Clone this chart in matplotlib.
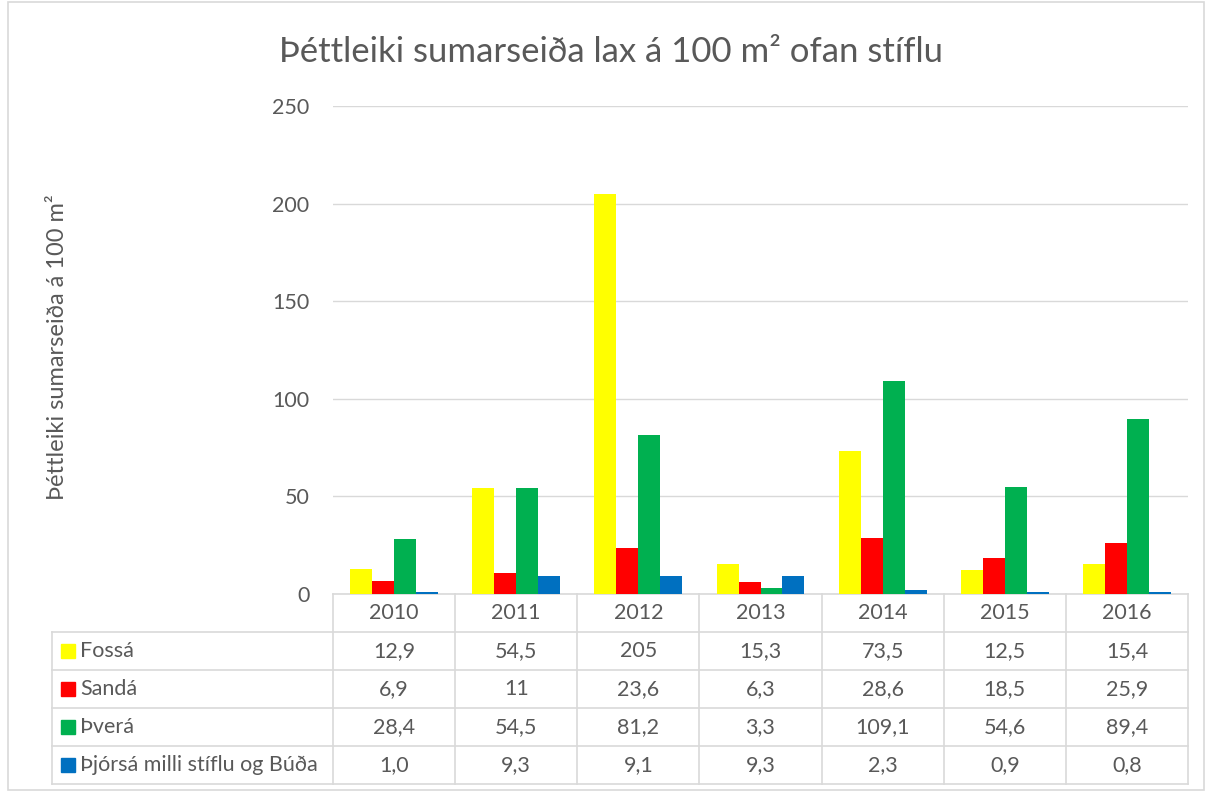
import numpy as np
import matplotlib.pyplot as plt
from matplotlib.patches import Rectangle

plt.rcParams['font.family'] = ['Lato', 'DejaVu Sans']

years = ['2010', '2011', '2012', '2013', '2014', '2015', '2016']
series_names = ['Fossá', 'Sandá', 'Þverá', 'Þjórsá milli stíflu og Búða']
fossa = [12.9, 54.5, 205, 15.3, 73.5, 12.5, 15.4]
sanda = [6.9, 11, 23.6, 6.3, 28.6, 18.5, 25.9]
thvera = [28.4, 54.5, 81.2, 3.3, 109.1, 54.6, 89.4]
thjorsa = [1.0, 9.3, 9.1, 9.3, 2.3, 0.9, 0.8]
table_text = [
    ['12,9', '54,5', '205', '15,3', '73,5', '12,5', '15,4'],
    ['6,9', '11', '23,6', '6,3', '28,6', '18,5', '25,9'],
    ['28,4', '54,5', '81,2', '3,3', '109,1', '54,6', '89,4'],
    ['1,0', '9,3', '9,1', '9,3', '2,3', '0,9', '0,8'],
]
colors = ['#FFFF00', '#FF0000', '#00B050', '#0070C0']

txt = '#595959'
grid = '#D9D9D9'
fs = 15.5

W, H = 1212, 792
fig = plt.figure(figsize=(W / 100, H / 100), dpi=100)

# outer chart border
fig.patches.append(Rectangle((8 / W, 2 / H), 1196 / W, 788 / H, transform=fig.transFigure,
                             fill=False, edgecolor=grid, lw=1.2))

# ── main bar axes ──
ax = fig.add_axes([333 / W, 1 - 594 / H, 855 / W, 488 / H])
x = np.arange(len(years))
w = 0.18
for j, vals in enumerate([fossa, sanda, thvera, thjorsa]):
    ax.bar(x + (j - 1.5) * w, vals, width=w, color=colors[j], zorder=3)

ax.set_xlim(-0.5, len(years) - 0.5)
ax.set_ylim(0, 250)
ax.set_yticks(range(0, 251, 50))
ax.yaxis.grid(True, color=grid, lw=1, zorder=0)
ax.set_xticks([])
for s in ['top', 'right', 'left']:
    ax.spines[s].set_visible(False)
ax.spines['bottom'].set_color(grid)
ax.spines['bottom'].set_linewidth(1.2)
ax.tick_params(axis='y', length=0, pad=17, labelsize=fs, labelcolor=txt)

fig.text(58 / W, 1 - 347 / H, 'Þéttleiki sumarseiða á 100 m²', rotation=90,
         ha='center', va='center', fontsize=17, color=txt)
fig.text(0.504, 1 - 52 / H, 'Þéttleiki sumarseiða lax á 100 m² ofan stíflu',
         ha='center', va='center', fontsize=25, color=txt)

# ── data table ──
lab_w = 281 / 122.14
tab = fig.add_axes([52 / W, 1 - 784 / H, 1136 / W, 190 / H])
tab.set_xlim(-0.5 - lab_w, len(years) - 0.5)
tab.set_ylim(5, 0)
tab.axis('off')
lc = '#D9D9D9'
# vertical lines of data columns
for i in range(len(years) + 1):
    tab.plot([i - 0.5, i - 0.5], [0, 5], color=lc, lw=1.2, clip_on=False)
# left edge of label column
tab.plot([-0.5 - lab_w] * 2, [1, 5], color=lc, lw=1.2, clip_on=False)
# horizontal lines
for r in range(1, 6):
    tab.plot([-0.5 - lab_w, len(years) - 0.5], [r, r], color=lc, lw=1.2, clip_on=False)

for i, yr in enumerate(years):
    tab.text(i, 0.5, yr, ha='center', va='center', fontsize=fs, color=txt)
for r, name in enumerate(series_names):
    yc = r + 1.5
    x0 = -0.5 - lab_w + 9 / 122.14
    tab.add_patch(Rectangle((x0, yc - 0.18), 14 / 122.14, 0.36, color=colors[r], clip_on=False))
    tab.text(x0 + 19 / 122.14, yc, name, ha='left', va='center', fontsize=fs, color=txt)
    for i in range(len(years)):
        tab.text(i, yc, table_text[r][i], ha='center', va='center', fontsize=fs, color=txt)

fig.savefig('out.png', dpi=100)
